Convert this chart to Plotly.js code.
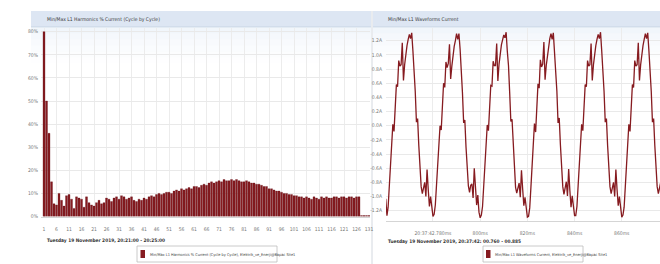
<!DOCTYPE html>
<html><head><meta charset="utf-8">
<script src="https://cdn.plot.ly/plotly-3.0.1.min.js"></script>
<style>html,body{margin:0;padding:0;background:#fff;}#chart{width:660px;height:264px;}</style>
</head><body><div id="chart"></div>
<script>
// ---------- Harmonics (left chart) ----------
const harmonics = [1,2,3,4,5,6,7,8,9,10,11,12,13,14,15,16,17,18,19,20,21,22,23,24,25,26,27,28,29,30,31,32,33,34,35,36,37,38,39,40,41,42,43,44,45,46,47,48,49,50,51,52,53,54,55,56,57,58,59,60,61,62,63,64,65,66,67,68,69,70,71,72,73,74,75,76,77,78,79,80,81,82,83,84,85,86,87,88,89,90,91,92,93,94,95,96,97,98,99,100,101,102,103,104,105,106,107,108,109,110,111,112,113,114,115,116,117,118,119,120,121,122,123,124,125,126,127,128,129,130,131];
const harmonicPct = [80,50,36,15,5.5,5,10,7,4.5,9,9.5,7.5,3.5,8.5,8,7.5,4,8.5,6,5,4.5,6,7,5.5,6,8,7.5,6.5,8,8.5,7.5,9,8.5,7.5,8,8.5,7,6.5,7.5,7,8,7.5,8.5,9,8.5,9.5,10,9.5,10,10.5,10.5,10,11,11.5,11,12,11.5,12,12.5,12,13,13,12.5,13.5,14,13.5,14.5,15,14.5,15,15.5,15,16,15.5,15.5,16,15.5,16,15.5,15,15,15.5,15,14.5,14.5,14,14,13.5,13,13,12,12,11.5,11,11,10.5,10,10,9.5,9.5,9,9,8.5,8.5,8,8.5,8,7.5,8.5,8,7.5,8.5,8,8.5,8,8,8.5,8.5,8,8.5,8.5,8,8.5,8.5,8,8.5,8.5,0.4,0.4,0.4,0.4];
const harmTickVals = [1,6,11,16,21,26,31,36,41,46,51,56,61,66,71,76,81,86,91,96,101,106,111,116,121,126,131];
const pctTickVals = [0,10,20,30,40,50,60,70,80];
const pctTickText = ['0%','10%','20%','30%','40%','50%','60%','70%','80%'];

// ---------- Waveform (right chart) ----------
const waveTimeMs = [
760,760.5,761,761.5,762,762.5,763,763.5,764,764.5,
765,765.5,766,766.5,767,767.5,768,768.5,769,769.5,
770,770.5,771,771.5,772,772.5,773,773.5,774,774.5,
775,775.5,776,776.5,777,777.5,778,778.5,779,779.5,
780,780.5,781,781.5,782,782.5,783,783.5,784,784.5,
785,785.5,786,786.5,787,787.5,788,788.5,789,789.5,
790,790.5,791,791.5,792,792.5,793,793.5,794,794.5,
795,795.5,796,796.5,797,797.5,798,798.5,799,799.5,
800,800.5,801,801.5,802,802.5,803,803.5,804,804.5,
805,805.5,806,806.5,807,807.5,808,808.5,809,809.5,
810,810.5,811,811.5,812,812.5,813,813.5,814,814.5,
815,815.5,816,816.5,817,817.5,818,818.5,819,819.5,
820,820.5,821,821.5,822,822.5,823,823.5,824,824.5,
825,825.5,826,826.5,827,827.5,828,828.5,829,829.5,
830,830.5,831,831.5,832,832.5,833,833.5,834,834.5,
835,835.5,836,836.5,837,837.5,838,838.5,839,839.5,
840,840.5,841,841.5,842,842.5,843,843.5,844,844.5,
845,845.5,846,846.5,847,847.5,848,848.5,849,849.5,
850,850.5,851,851.5,852,852.5,853,853.5,854,854.5,
855,855.5,856,856.5,857,857.5,858,858.5,859,859.5,
860,860.5,861,861.5,862,862.5,863,863.5,864,864.5,
865,865.5,866,866.5,867,867.5,868,868.5,869,869.5,
870,870.5,871,871.5,872,872.5,873,873.5,874,874.5,
875,875.5,876,876.5,877,877.5,878,878.5,879,879.5,
880];
const waveCurrentA = [
-1.03,
-1.27,-1.15,-0.86,-0.55,-0.28,0.02,-0.08,0.36,0.58,0.55,0.92,0.84,0.86,1.17,0.64,0.86,1.02,1.13,1.22,1.29,1.23,1.31,1.06,0.84,0.48,0.05,0.1,-0.28,-0.6,-0.86,-0.96,-0.86,-0.8,-1.0,-0.62,-0.9,-1.14,-1.0,-1.2,-1.28,
-1.25,-1.12,-0.84,-0.52,-0.25,0.0,-0.06,0.38,0.6,0.54,0.9,0.82,0.88,1.15,0.66,0.84,1.0,1.12,1.2,1.3,1.22,1.3,1.08,0.82,0.46,0.04,0.08,-0.3,-0.62,-0.85,-0.94,-0.84,-0.82,-1.02,-0.6,-0.92,-1.12,-0.98,-1.22,-1.3,
-1.26,-1.14,-0.85,-0.54,-0.27,0.01,-0.07,0.37,0.57,0.56,0.91,0.85,0.85,1.16,0.63,0.87,1.03,1.14,1.21,1.28,1.24,1.32,1.05,0.85,0.47,0.06,0.09,-0.29,-0.61,-0.87,-0.95,-0.85,-0.81,-1.01,-0.63,-0.89,-1.13,-1.01,-1.21,-1.29,
-1.28,-1.16,-0.87,-0.56,-0.26,0.03,-0.09,0.35,0.59,0.53,0.93,0.83,0.87,1.18,0.65,0.85,1.01,1.12,1.23,1.3,1.22,1.31,1.07,0.83,0.49,0.04,0.11,-0.27,-0.59,-0.86,-0.97,-0.87,-0.79,-0.99,-0.61,-0.91,-1.15,-0.99,-1.19,-1.27,
-1.27,-1.14,-0.85,-0.55,-0.29,0.02,-0.07,0.37,0.58,0.55,0.92,0.84,0.86,1.16,0.64,0.86,1.02,1.13,1.22,1.29,1.23,1.32,1.06,0.84,0.48,0.05,0.1,-0.28,-0.6,-0.86,-0.96,-0.86,-0.8,-1.0,-0.62,-0.9,-1.13,-1.0,-1.2,-1.29,
-1.26,-1.15,-0.86,-0.55,-0.27,0.02,-0.08,0.36,0.58,0.54,0.92,0.84,0.86,1.17,0.64,0.86,1.02,1.13,1.22,1.3,1.23,1.31,1.06,0.84,0.48,0.05,0.1,-0.28,-0.6,-0.86,-0.96,-0.86,-0.8,-1.0,-0.62,-0.9,-1.14,-1.0,-1.2,-1.28];
const timeTickVals = [780,800,820,840,860];
const timeTickText = ['20:37:42.780ms','800ms','820ms','840ms','860ms'];
const ampTickVals = [1.2,1.0,0.8,0.6,0.4,0.2,0,-0.2,-0.4,-0.6,-0.8,-1.0,-1.2];
const ampTickText = ['1.2A','1.0A','0.8A','0.6A','0.4A','0.2A','0.0A','-0.2A','-0.4A','-0.6A','-0.8A','-1.0A','-1.2A'];

// ---------- Texts ----------
const leftTitle = 'Min/Max L1 Harmonics % Current (Cycle by Cycle)';
const rightTitle = 'Min/Max L1 Waveforms Current';
const leftDate = 'Tuesday 19 November 2019, 20:21:00 - 20:25:00';
const rightDate = 'Tuesday 19 November 2019, 20:37:42: 00.760 - 00.885';
const leftLegend = 'Min/Max L1 Harmonics % Current (Cycle by Cycle), Elektrik_ve_Enerji@Bapac Site1';
const rightLegend = 'Min/Max L1 Waveforms Current, Elektrik_ve_Enerji@Bapac Site1';

const W = 660, H = 264;
const px = v => v / W;
const py = v => 1 - v / H;
const FONT = "'Liberation Sans Narrow', 'DejaVu Sans Condensed', 'Arial Narrow', sans-serif";
const RED = '#861b20';

const traces = [
  {type:'bar', x:harmonics, y:harmonicPct, xaxis:'x', yaxis:'y',
   marker:{color:RED, line:{color:'#5e0f13', width:0.3}}, hoverinfo:'x+y', showlegend:false},
  {type:'scatter', mode:'lines', x:waveTimeMs, y:waveCurrentA, xaxis:'x2', yaxis:'y2',
   line:{color:RED, width:1.3}, showlegend:false}
];

const shapes = [];
function rect(x0,y0,x1,y1,fill,line,lw,layer,op){
  shapes.push({type:'rect', xref:'paper', yref:'paper', x0:px(x0), x1:px(x1), y0:py(y1), y1:py(y0),
    fillcolor:fill, opacity: op===undefined?1:op, line:{color:line||'rgba(0,0,0,0)', width:lw||0}, layer:layer||'below'});
}
// headers
rect(31,11,371,27,'#dde6f3');
rect(373,11,660,27,'#dde6f3');
rect(31,26.5,371,27.5,'#c7d3e4');
rect(373,26.5,660,27.5,'#c7d3e4');
// fade below header
const fades=[0.55,0.4,0.28,0.18,0.1,0.05];
fades.forEach((o,i)=>{rect(31,27.5+i*6,371,33.5+i*6,'#e6eef8',null,0,'below',o); rect(373,27.5+i*6,660,33.5+i*6,'#e6eef8',null,0,'below',o);});
// separator
shapes.push({type:'line', xref:'paper', yref:'paper', x0:px(372), x1:px(372), y0:0, y1:py(11), line:{color:'#d3d8df', width:1}, layer:'below'});
// legend boxes
rect(137,246,277,262,'#ffffff','#bdbdbd',0.8,'above');
rect(140.5,250,145,258,RED,null,0,'above');
rect(483,246,583,262,'#ffffff','#bdbdbd',0.8,'above');
rect(486,250,490.5,258,RED,null,0,'above');

const annotations = [
  {text:leftTitle, x:px(45), y:py(19.5), xref:'paper', yref:'paper', xanchor:'left', yanchor:'middle', showarrow:false, font:{family:FONT, size:5, color:'#3a3a3a'}},
  {text:rightTitle, x:px(386), y:py(19.5), xref:'paper', yref:'paper', xanchor:'left', yanchor:'middle', showarrow:false, font:{family:FONT, size:5, color:'#3a3a3a'}},
  {text:'<b>'+leftDate+'</b>', x:px(45), y:py(241), xref:'paper', yref:'paper', xanchor:'left', yanchor:'middle', showarrow:false, font:{family:FONT, size:4.8, color:'#333'}},
  {text:'<b>'+rightDate+'</b>', x:px(386), y:py(242), xref:'paper', yref:'paper', xanchor:'left', yanchor:'middle', showarrow:false, font:{family:FONT, size:4.8, color:'#333'}},
  {text:leftLegend, x:px(147.5), y:py(254), xref:'paper', yref:'paper', xanchor:'left', yanchor:'middle', showarrow:false, font:{family:FONT, size:3.9, color:'#444'}},
  {text:rightLegend, x:px(492.5), y:py(254), xref:'paper', yref:'paper', xanchor:'left', yanchor:'middle', showarrow:false, font:{family:FONT, size:3.9, color:'#444'}}
];

const tickFont = {family:FONT, size:5, color:'#777'};
const layout = {
  width:W, height:H, margin:{l:0,r:0,t:0,b:0},
  paper_bgcolor:'#ffffff', plot_bgcolor:'rgba(0,0,0,0)',
  bargap:0.2, showlegend:false,
  xaxis:{domain:[px(41), px(370)], range:[-0.2,131.4], anchor:'y',
    tickmode:'array', tickvals:harmTickVals, tickfont:tickFont, ticks:'', ticklabelstandoff:7,
    showgrid:true, gridcolor:'#ececec', gridwidth:1, zeroline:false, showline:true, linecolor:'#d5d5d5', linewidth:1},
  yaxis:{domain:[py(216.5), py(28)], range:[0,81.6], anchor:'x',
    tickmode:'array', tickvals:pctTickVals, ticktext:pctTickText, tickfont:tickFont, ticks:'', ticklabelstandoff:2,
    showgrid:true, gridcolor:'#e9e9e9', gridwidth:1, zeroline:false, showline:false},
  xaxis2:{domain:[px(386), 1], range:[760.1,876.2], anchor:'y2',
    tickmode:'array', tickvals:timeTickVals, ticktext:timeTickText, tickfont:tickFont, ticks:'', ticklabelstandoff:7,
    showgrid:true, gridcolor:'#ececec', gridwidth:1, zeroline:false, showline:true, linecolor:'#d5d5d5', linewidth:1},
  yaxis2:{domain:[py(221), py(28)], range:[-1.345,1.379], anchor:'x2',
    tickmode:'array', tickvals:ampTickVals, ticktext:ampTickText, tickfont:tickFont, ticks:'', ticklabelstandoff:3,
    showgrid:true, gridcolor:'#e9e9e9', gridwidth:1, zeroline:false, showline:false},
  shapes:shapes, annotations:annotations
};
Plotly.newPlot('chart', traces, layout, {staticPlot:true, displayModeBar:false});
</script></body></html>
